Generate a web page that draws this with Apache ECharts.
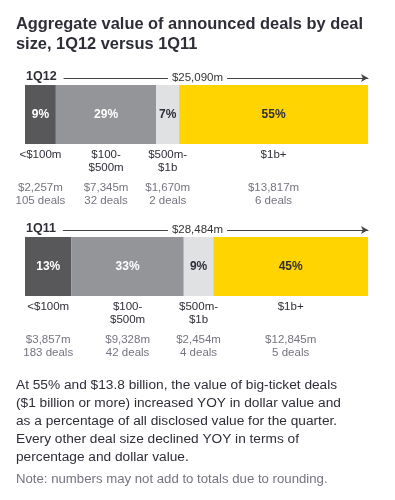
<!DOCTYPE html>
<html>
<head>
<meta charset="utf-8">
<script src="https://cdn.jsdelivr.net/npm/echarts@6/dist/echarts.min.js"></script>
<style>
html,body{margin:0;padding:0;background:#fff;}
#chart{width:395px;height:500px;}
</style>
</head>
<body>
<div id="chart"></div>
<script>
const titleText = 'Aggregate value of announced deals by deal\nsize, 1Q12 versus 1Q11';
const categories = ['<$100m', '$100-\n$500m', '$500m-\n$1b', '$1b+'];
const periods = ['1Q12', '1Q11'];
const totals = [25090, 28484];
const values12 = [2257, 7345, 1670, 13817];
const values11 = [3857, 9328, 2454, 12845];
const deals12 = [105, 32, 2, 6];
const deals11 = [183, 42, 4, 5];
const pct12 = [9, 29, 7, 55];
const pct11 = [13, 33, 9, 45];
const bodyText = 'At 55% and $13.8 billion, the value of big-ticket deals\n($1 billion or more) increased YOY in dollar value and\nas a percentage of all disclosed value for the quarter.\nEvery other deal size declined YOY in terms of\npercentage and dollar value.';
const noteText = 'Note: numbers may not add to totals due to rounding.';

const segColors = ['#58585a', '#939598', '#e0e1e3', '#ffd400'];
const pctColors = ['#ffffff', '#ffffff', '#2e2e38', '#2e2e38'];
const FONT = '"Liberation Sans", Arial, sans-serif';

const values = [values12, values11];
const deals = [deals12, deals11];
const pcts = [pct12, pct11];
const gridTops = [85, 237];
const fmt = n => '$' + n.toLocaleString('en-US') + 'm';

const grids = [], xAxes = [], yAxes = [], series = [], titles = [];
titles.push({text: titleText, left: 11, top: 9, textStyle: {fontFamily: FONT, fontWeight: 'bold', fontSize: 16.4, color: '#2e2e38', lineHeight: 20}});
periods.forEach((p, k) => {
  grids.push({left: 25, right: 27, top: gridTops[k], height: 59});
  xAxes.push({
    type: 'value', gridIndex: k, position: 'top', min: 0, max: totals[k], offset: 7,
    axisLine: {show: true, symbol: ['none', 'arrow'], symbolSize: [6, 7], lineStyle: {color: '#444', width: 1}},
    axisTick: {show: false}, axisLabel: {show: false}, splitLine: {show: false}
  });
  yAxes.push({type: 'category', gridIndex: k, data: [p], show: false});
  titles.push({text: p, left: 21, top: gridTops[k] - 15, backgroundColor: '#fff', padding: [0, 7, 0, 5],
    textStyle: {fontFamily: FONT, fontWeight: 'bold', fontSize: 12.5, color: '#2e2e38', lineHeight: 14}});
  titles.push({text: fmt(totals[k]), left: 'center', top: gridTops[k] - 14, backgroundColor: '#fff', padding: [0, 4],
    textStyle: {fontFamily: FONT, fontWeight: 'normal', fontSize: 11.5, color: '#333', lineHeight: 13}});
  categories.forEach((c, i) => {
    series.push({
      type: 'bar', xAxisIndex: k, yAxisIndex: k, stack: 'v' + k, data: [values[k][i]],
      barWidth: '100%', barGap: '-100%', barCategoryGap: 0,
      itemStyle: {color: segColors[i]},
      label: {show: true, position: 'inside', formatter: pcts[k][i] + '%',
        fontFamily: FONT, fontWeight: 'bold', fontSize: 12, color: pctColors[i]},
      silent: true
    });
  });
  categories.forEach((c, i) => {
    const lines = c.split('\n');
    if (lines.length < 2) lines.push(' ');
    const txt = lines.map(l => '{c|' + l + '}').join('\n') + '\n{g| }\n{v|' + fmt(values[k][i]) + '}\n{v|' + deals[k][i] + ' deals}';
    series.push({
      type: 'bar', xAxisIndex: k, yAxisIndex: k, stack: 'l' + k, data: [values[k][i]],
      barWidth: '100%', barGap: '-100%', barCategoryGap: 0,
      itemStyle: {color: 'transparent'},
      label: {show: true, position: 'bottom', distance: 5, formatter: txt,
        rich: {
          c: {fontFamily: FONT, fontSize: 11.5, color: '#2e2e38', lineHeight: 12.5, align: 'center'},
          g: {fontSize: 6, lineHeight: 8},
          v: {fontFamily: FONT, fontSize: 11.5, color: '#747480', lineHeight: 12.3, align: 'center'}
        }},
      silent: true
    });
  });
});
titles.push({text: bodyText, left: 11, top: 376, padding: [0, 5], textStyle: {fontFamily: FONT, fontWeight: 'normal', fontSize: 13.7, color: '#2e2e38', lineHeight: 18}});
titles.push({text: noteText, left: 11, top: 471, padding: [0, 5], textStyle: {fontFamily: FONT, fontWeight: 'normal', fontSize: 13.2, color: '#747480', lineHeight: 16}});

const chart = echarts.init(document.getElementById('chart'), null, {renderer: 'canvas'});
chart.setOption({
  backgroundColor: '#fff',
  animation: false,
  title: titles,
  grid: grids, xAxis: xAxes, yAxis: yAxes, series: series
});
</script>
</body>
</html>
